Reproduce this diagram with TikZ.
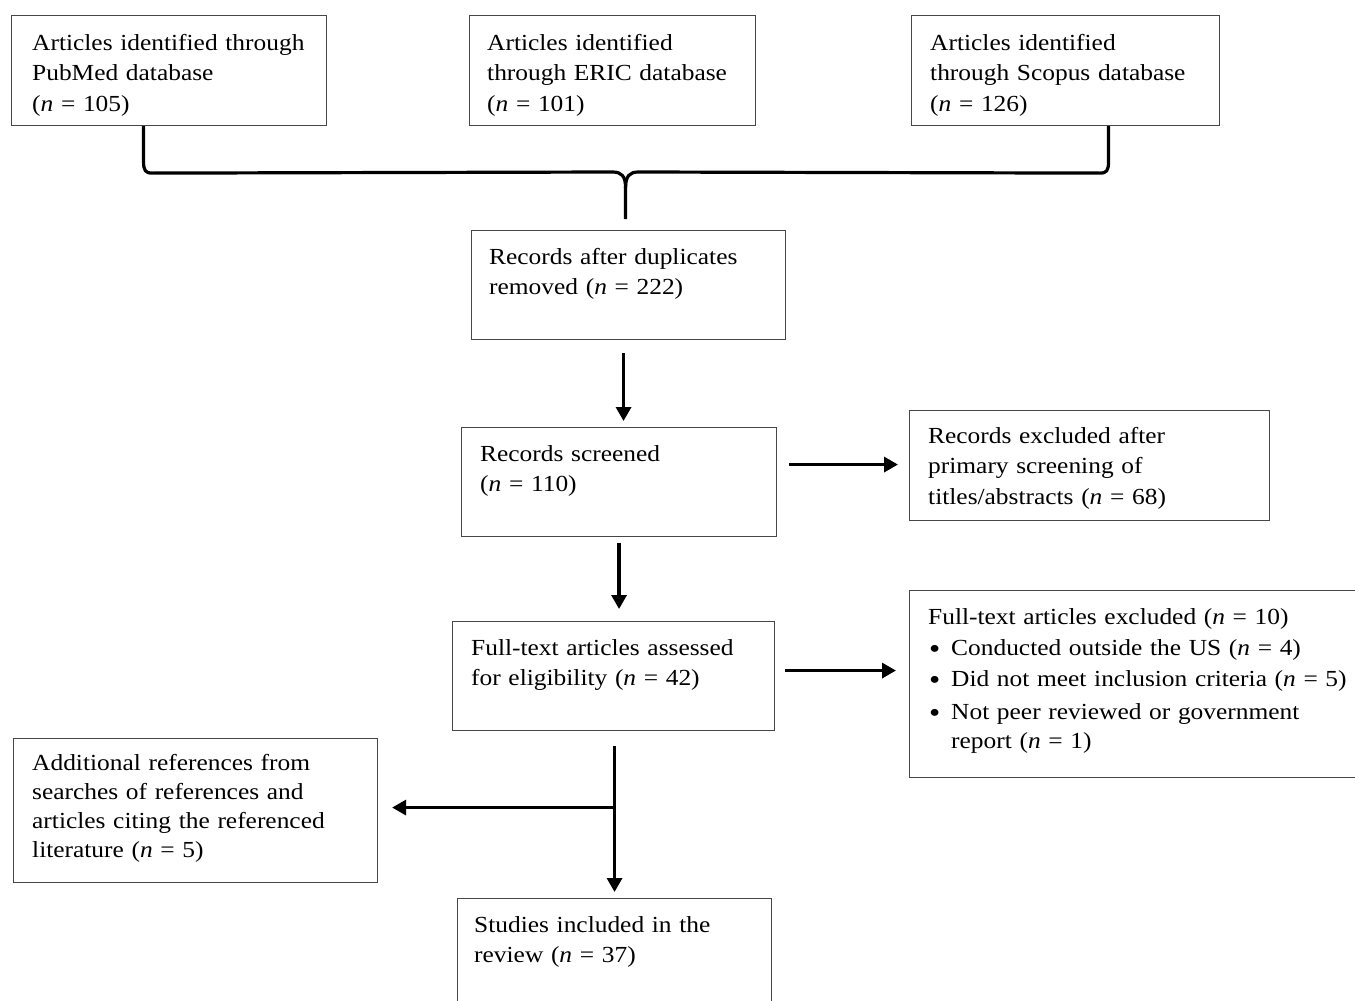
\documentclass[tikz,border=0pt]{standalone}
\usepackage{fontspec}
\setmainfont{Liberation Serif}[FakeStretch=1.105]
\usetikzlibrary{arrows.meta,calc}
\newcommand{\bulletitem}{\makebox[23pt][l]{\hspace{1pt}\raisebox{-3pt}{\fontsize{29}{29}\selectfont •}}}
\begin{document}
\begin{tikzpicture}[x=1pt,y=-1pt,
  box/.style={draw=black!72, line width=1.1pt, inner sep=0pt, anchor=north west, rectangle},
  txt/.style={anchor=base west, inner sep=0pt, text width=460pt, align=left,
              font=\fontsize{23}{30.5}\selectfont},
  arr/.style={line width=3.2pt, -{Triangle[length=14pt,width=15pt]}},
  brace/.style={line width=3.2pt, line join=round, line cap=butt}]
\useasboundingbox (0,0) rectangle (1355,1001);
\clip (0,0) rectangle (1355,1001);
% boxes
\node[box, minimum width=315pt, minimum height=110pt] (pub) at (11,15) {};
\node[box, minimum width=286pt, minimum height=110pt] (eric) at (469,15) {};
\node[box, minimum width=308pt, minimum height=110pt] (scop) at (911,15) {};
\node[box, minimum width=314pt, minimum height=109pt] (dup) at (471,230) {};
\node[box, minimum width=315pt, minimum height=109pt] (scr) at (461,427) {};
\node[box, minimum width=360pt, minimum height=110pt] (exa) at (909,410) {};
\node[box, minimum width=322pt, minimum height=109pt] (ft) at (452,621) {};
\node[box, minimum width=470pt, minimum height=187pt] (exb) at (909,590) {};
\node[box, minimum width=364pt, minimum height=144pt] (add) at (13,738) {};
\node[box, minimum width=314pt, minimum height=130pt] (st) at (457,898) {};
% texts
\node[txt] (pubt) at ([xshift=21pt,yshift=-35pt]pub.north west)
  {Articles identified through\\PubMed database\\(\textit{n} = 105)};
\node[txt] (erict) at ([xshift=18pt,yshift=-35pt]eric.north west)
  {Articles identified\\through ERIC database\\(\textit{n} = 101)};
\node[txt] (scopt) at ([xshift=19pt,yshift=-35pt]scop.north west)
  {Articles identified\\through Scopus database\\(\textit{n} = 126)};
\node[txt] (dupt) at ([xshift=18pt,yshift=-34pt]dup.north west)
  {Records after duplicates\\removed (\textit{n} = 222)};
\node[txt] (scrt) at ([xshift=19pt,yshift=-34pt]scr.north west)
  {Records screened\\(\textit{n} = 110)};
\node[txt] (exat) at ([xshift=19pt,yshift=-33pt]exa.north west)
  {Records excluded after\\primary screening of\\titles/abstracts (\textit{n} = 68)};
\node[txt] (ftt) at ([xshift=19pt,yshift=-34pt]ft.north west)
  {Full-text articles assessed\\for eligibility (\textit{n} = 42)};
\node[txt, font=\fontsize{23}{31}\selectfont] (exbt) at ([xshift=19pt,yshift=-34pt]exb.north west)
  {Full-text articles excluded (\textit{n} = 10)\\
   \bulletitem Conducted outside the US (\textit{n} = 4)\\
   \bulletitem Did not meet inclusion criteria (\textit{n} = 5)\\[2pt]
   \bulletitem Not peer reviewed or government\\[-2pt]
   \hspace*{23pt}report (\textit{n} = 1)};
\node[txt, font=\fontsize{23}{29.3}\selectfont] (addt) at ([xshift=19pt,yshift=-32pt]add.north west)
  {Additional references from\\searches of references and\\articles citing the referenced\\literature (\textit{n} = 5)};
\node[txt] (stt) at ([xshift=17pt,yshift=-34pt]st.north west)
  {Studies included in the\\review (\textit{n} = 37)};
% brace
\coordinate (bl) at ([xshift=-25.5pt]pub.south);
\coordinate (br) at ([xshift=43pt]scop.south);
\coordinate (bm) at ([xshift=-3pt,yshift=11pt]dup.north);
\draw[brace] (bl) -- ++(0,35) .. controls +(0,10) and +(-7,0) .. ++(9,12)
  -- ($(bm)+(-13,-47)$) .. controls +(9,0) and +(0,-12) .. ($(bm)+(0,-31)$) -- (bm);
\draw[brace] (br) -- ++(0,35) .. controls +(0,10) and +(7,0) .. ++(-9,12)
  -- ($(bm)+(13,-47)$) .. controls +(-9,0) and +(0,-12) .. ($(bm)+(0,-31)$);
% arrows
\coordinate (a1) at ([xshift=-5pt,yshift=-13pt]dup.south);
\draw[arr, shorten >=6pt] (a1) -- (a1 |- scr.north);
\draw[arr, shorten <=12pt, shorten >=11pt] ([yshift=1pt]exa.west -| scr.east) -- ([yshift=1pt]exa.west);
\draw[arr, shorten <=6pt, shorten >=12pt] (scr.south) -- (scr.south |- ft.north);
\coordinate (a4) at ([yshift=5.5pt]ft.east);
\draw[arr, shorten <=10pt, shorten >=13pt] (a4) -- (a4 -| exb.west);
\coordinate (a5) at ([xshift=1pt,yshift=-15pt]ft.south);
\draw[arr, shorten >=6pt] (a5) -- (a5 |- st.north);
\coordinate (a6) at ([yshift=3pt]add.east -| a5);
\draw[arr, shorten >=14pt] (a6) -- ([yshift=3pt]add.east);
\end{tikzpicture}
\end{document}
